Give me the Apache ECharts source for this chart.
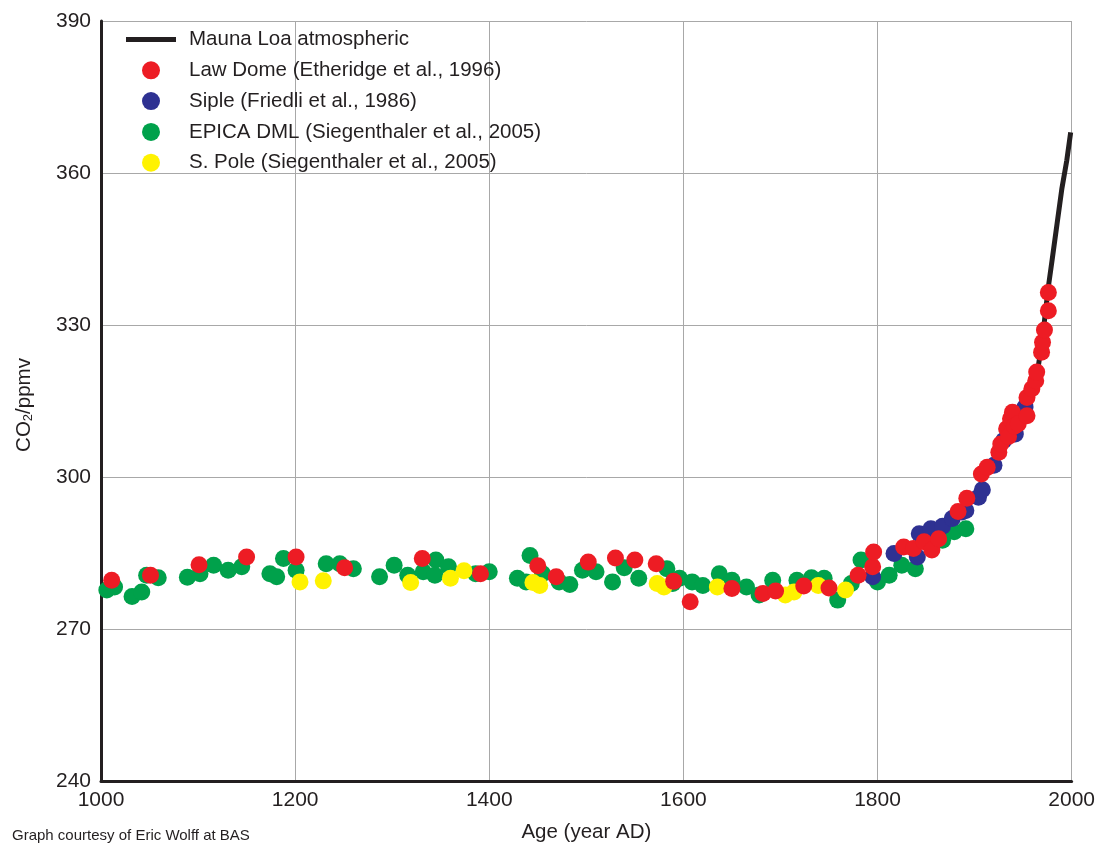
<!DOCTYPE html>
<html>
<head>
<meta charset="utf-8">
<title>CO2 over the last millennium</title>
<script src="https://cdn.jsdelivr.net/npm/echarts@6/dist/echarts.min.js"></script>
<style>
  html, body { margin: 0; padding: 0; background: #ffffff; }
  #chart { width: 1098px; height: 848px; }
</style>
</head>
<body>
<div id="chart"></div>
<script>
// Series names, in legend order
const seriesNames = [
  'Mauna Loa atmospheric',
  'Law Dome (Etheridge et al., 1996)',
  'Siple (Friedli et al., 1986)',
  'EPICA DML (Siegenthaler et al., 2005)',
  'S. Pole (Siegenthaler et al., 2005)'
];

// Axis ticks
const yearTicks = [1000, 1200, 1400, 1600, 1800, 2000];
const co2Ticks = [240, 270, 300, 330, 360, 390];

// Atmospheric record [year, ppmv]
const maunaLoa = [
  [1965, 321], [1970, 327.5], [1976, 337.5], [1980, 343], [1985, 350],
  [1990, 357], [1995, 362.5], [1999, 368]
];

// Law Dome ice core [year, ppmv]
const lawDome = [
  [1011, 279.6], [1051, 280.6], [1101, 282.7], [1150, 284.2], [1201, 284.2],
  [1251, 282.1], [1331, 283.9], [1391, 280.9], [1450, 282.5], [1469, 280.3],
  [1502, 283.2], [1530, 284.0], [1550, 283.6], [1572, 282.9], [1590, 279.4],
  [1607, 275.4], [1650, 278.0], [1682, 277.0], [1695, 277.5], [1724, 278.5],
  [1750, 278.1], [1780, 280.6], [1795, 282.3], [1796, 285.2], [1827, 286.2],
  [1837, 285.9], [1848, 287.2], [1856, 285.6], [1863, 287.8], [1883, 293.2],
  [1892, 295.8], [1907, 300.6], [1913, 301.9], [1925, 304.9], [1927, 306.5],
  [1933, 309.5], [1935, 308.0], [1937, 311.5], [1939, 312.8], [1941, 310.0],
  [1945, 310.5], [1954, 312.1], [1954, 315.7], [1959, 317.4], [1963, 319.0],
  [1964, 320.7], [1969, 324.6], [1970, 326.6], [1972, 329.0], [1976, 332.8],
  [1976, 336.4]
];

// Siple ice core [year, ppmv]
const siple = [
  [1795, 280.3], [1817, 284.9], [1841, 284.2], [1843, 288.8], [1855, 289.8],
  [1867, 290.3], [1877, 291.8], [1887, 293.1], [1891, 293.4], [1904, 296.0],
  [1908, 297.5], [1920, 302.3], [1930, 307.2], [1942, 308.5], [1952, 313.8]
];

// EPICA Dronning Maud Land ice core [year, ppmv]
const epicaDML = [
  [1006, 277.7], [1014, 278.3], [1032, 276.4], [1042, 277.3], [1047, 280.6],
  [1059, 280.1], [1089, 280.2], [1102, 280.9], [1116, 282.6], [1131, 281.6],
  [1145, 282.3], [1174, 280.9], [1181, 280.3], [1188, 283.9], [1201, 281.6],
  [1232, 282.9], [1246, 282.9], [1260, 281.9], [1287, 280.3], [1302, 282.6],
  [1316, 280.6], [1332, 281.3], [1345, 283.6], [1344, 280.6], [1358, 282.3],
  [1386, 280.9], [1400, 281.3], [1429, 280.0], [1442, 284.5], [1438, 279.3],
  [1455, 280.9], [1472, 279.3], [1483, 278.8], [1496, 281.6], [1510, 281.3],
  [1527, 279.3], [1539, 282.1], [1554, 280.0], [1583, 281.9], [1589, 279.0],
  [1596, 280.0], [1609, 279.3], [1620, 278.6], [1637, 280.9], [1650, 279.6],
  [1665, 278.3], [1678, 276.7], [1692, 279.6], [1717, 279.6], [1732, 280.1],
  [1745, 280.0], [1759, 275.7], [1773, 279.0], [1783, 283.6], [1800, 279.3],
  [1812, 280.6], [1825, 282.6], [1839, 281.9], [1867, 287.5], [1879, 289.2],
  [1891, 289.8]
];

// South Pole ice core [year, ppmv]
const southPole = [
  [1205, 279.3], [1229, 279.5], [1319, 279.2], [1360, 280.0], [1374, 281.5],
  [1445, 279.2], [1452, 278.6], [1573, 279.0], [1580, 278.3], [1635, 278.3],
  [1705, 276.7], [1714, 277.3], [1739, 278.6], [1767, 277.7]
];

const TEXT = '#231f20';
const FONT = '"Liberation Sans", Arial, Helvetica, sans-serif';
const DOT = 17;

const chart = echarts.init(document.getElementById('chart'), null, { renderer: 'canvas' });

function dots(name, data, color, z) {
  return {
    name: name,
    type: 'scatter',
    data: data,
    symbol: 'circle',
    symbolSize: DOT,
    z: z,
    itemStyle: { color: color, opacity: 1 },
    emphasis: { disabled: true },
    silent: true
  };
}

// Legend entries: a plain bar for the atmospheric line, circles for the cores
const legendData = seriesNames.map(function (n, i) {
  return i === 0
    ? { name: n, icon: 'path://M0,0L50,0L50,5L0,5Z' }
    : { name: n, icon: 'circle' };
});

chart.setOption({
  backgroundColor: '#ffffff',
  animation: false,
  textStyle: { fontFamily: FONT, color: TEXT },
  grid: { left: 101, right: 22, top: 21, bottom: 65, containLabel: false },
  legend: {
    data: legendData,
    orient: 'vertical',
    left: 121,
    top: 24,
    itemWidth: 50,
    itemHeight: 18,
    itemGap: 9.8,
    symbolKeepAspect: true,
    selectedMode: false,
    textStyle: { fontFamily: FONT, fontSize: 20.5, color: TEXT, lineHeight: 18, padding: [0, 0, 0, 8] }
  },
  xAxis: {
    type: 'value',
    min: yearTicks[0],
    max: yearTicks[yearTicks.length - 1],
    interval: 200,
    name: 'Age (year AD)',
    nameLocation: 'middle',
    nameGap: 41,
    nameTextStyle: { fontFamily: FONT, fontSize: 20.5, color: TEXT },
    axisLine: { onZero: false, lineStyle: { color: TEXT, width: 3 } },
    axisTick: { show: false },
    axisLabel: { margin: 9, fontSize: 21, color: TEXT, fontFamily: FONT, formatter: function (v) { return String(v); } },
    splitLine: { show: true, lineStyle: { color: '#a8a8a8', width: 1 } }
  },
  yAxis: {
    type: 'value',
    min: co2Ticks[0],
    max: co2Ticks[co2Ticks.length - 1],
    interval: 30,
    name: '{a|CO}{s|2}{a|/ppmv}',
    nameLocation: 'middle',
    nameGap: 66,
    nameTextStyle: {
      fontFamily: FONT,
      padding: [0, 8, 0, 0],
      rich: {
        a: { fontSize: 20.5, color: TEXT, fontFamily: FONT, lineHeight: 22 },
        s: { fontSize: 13, color: TEXT, fontFamily: FONT, lineHeight: 22, verticalAlign: 'bottom', padding: [7, 0, 0, 0] }
      }
    },
    axisLine: { show: true, lineStyle: { color: TEXT, width: 3 } },
    axisTick: { show: false },
    axisLabel: { margin: 10, fontSize: 21, color: TEXT, fontFamily: FONT, formatter: function (v) { return String(v); } },
    splitLine: { show: true, lineStyle: { color: '#a8a8a8', width: 1 } }
  },
  graphic: [{
    type: 'text',
    left: 12,
    top: 828,
    style: { text: 'Graph courtesy of Eric Wolff at BAS', font: '15px ' + FONT, fill: TEXT }
  }],
  series: [
    dots(seriesNames[3], epicaDML, '#00a14b', 2),
    dots(seriesNames[4], southPole, '#fff200', 3),
    dots(seriesNames[2], siple, '#2e3192', 4),
    {
      name: seriesNames[0],
      type: 'line',
      data: maunaLoa,
      symbol: 'none',
      z: 5,
      lineStyle: { color: TEXT, width: 5 },
      itemStyle: { color: TEXT },
      silent: true
    },
    dots(seriesNames[1], lawDome, '#ed1c24', 6)
  ]
});
</script>
</body>
</html>
